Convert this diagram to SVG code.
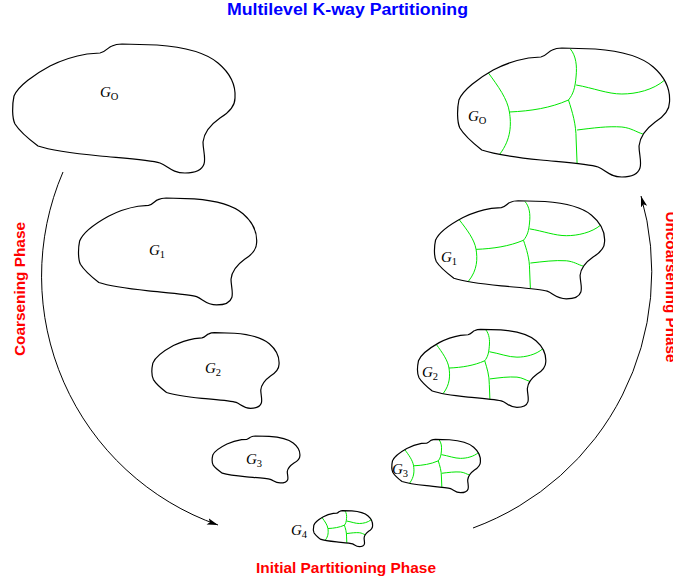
<svg xmlns="http://www.w3.org/2000/svg" xmlns:xlink="http://www.w3.org/1999/xlink" width="673" height="577" viewBox="0 0 673 577">
<style>
.outline{fill:none;stroke:#000;stroke-width:1.2;vector-effect:non-scaling-stroke;stroke-linejoin:round}
.part{fill:none;stroke:#00e600;stroke-width:1;vector-effect:non-scaling-stroke}
.lbl{font-family:"Liberation Serif","Times New Roman",serif;font-size:15px;fill:#000}
.it{font-style:italic}
.sub{font-size:10.5px}
.title{font-family:"Liberation Sans",Arial,sans-serif;font-weight:bold;font-size:16px;fill:#0000ff}
.phase{font-family:"Liberation Sans",Arial,sans-serif;font-weight:bold;font-size:15.5px;fill:#ff0000}
.conn{fill:none;stroke:#000;stroke-width:1}
</style>
<defs>
<path id="blob" class="outline" d="M 87,54 L 100,53 C 106,52 108,47 112,46 C 116,44 118,44 122,44 L 157,45 C 185,47 205,52 218,63 C 230,73 236,84 235,98 C 235,106 230,112 220,118 C 210,125 204,132 203,142 C 203,150 206,158 204,164 C 202,170 195,173 185,173 C 172,173 168,166 160,163 C 150,160 120,158 100,156 C 70,153 50,150 38,146 C 30,140 20,132 15,124 C 12,118 12,105 14,96 C 18,86 35,74 50,66 C 62,60 75,56 87,54 Z"/>
<g id="pblob">
<path class="part" d="M 45,69 C 55,82 65,95 67,108 C 69,120 69,135 57,150"/>
<path class="part" d="M 67,108 C 90,107 110,104 129,96"/>
<path class="part" d="M 131,45 C 137,52 138,62 137,72 C 136,84 134,90 129,96"/>
<path class="part" d="M 129,96 C 133,108 137,120 137,135 L 138,159"/>
<path class="part" d="M 137,81 C 155,84 170,90 185,90 C 200,90 218,86 230,76"/>
<path class="part" d="M 138,126 C 155,124 170,122 185,123 C 195,124 200,128 207,130"/>
<use xlink:href="#blob"/>
</g>
<marker id="arr" markerUnits="userSpaceOnUse" markerWidth="12" markerHeight="8" refX="11" refY="4" orient="auto">
<path d="M0,0.8 L11,4 L0,7.2 L2.5,4 Z" fill="#000"/>
</marker>
</defs>

<text class="title" x="347.5" y="15" text-anchor="middle" textLength="241" lengthAdjust="spacingAndGlyphs">Multilevel K-way Partitioning</text>

<g id="connectors">
<path class="conn" d="M 63,172 A 263.7 263.7 0 0 0 218,525" marker-end="url(#arr)"/>
<path class="conn" d="M 473,528 A 272.8 272.8 0 0 0 641,196" marker-end="url(#arr)"/>
</g>

<g id="G0-left">
<use xlink:href="#blob"/>
<text class="lbl" x="100" y="97"><tspan class="it">G</tspan><tspan class="sub" dy="2.5">O</tspan></text>
</g>
<g id="G1-left">
<use xlink:href="#blob" transform="matrix(0.801,0,0,0.829,68.4,161.5)"/>
<text class="lbl" x="149" y="255"><tspan class="it">G</tspan><tspan class="sub" dy="2.5">1</tspan></text>
</g>
<g id="G2-left">
<use xlink:href="#blob" transform="matrix(0.571,0,0,0.586,144.85,306.9)"/>
<text class="lbl" x="205" y="373"><tspan class="it">G</tspan><tspan class="sub" dy="2.5">2</tspan></text>
</g>
<g id="G3-left">
<use xlink:href="#blob" transform="matrix(0.394,0,0,0.364,207.3,420)"/>
<text class="lbl" x="246" y="464"><tspan class="it">G</tspan><tspan class="sub" dy="2.5">3</tspan></text>
</g>
<g id="G4">
<use xlink:href="#pblob" transform="matrix(0.266,0,0,0.279,310.1,498.4)"/>
<text class="lbl" x="291" y="535"><tspan class="it">G</tspan><tspan class="sub" dy="2.5">4</tspan></text>
</g>
<g id="G3-right">
<use xlink:href="#pblob" transform="matrix(0.398,0,0,0.414,386.9,421.1)"/>
<text class="lbl" x="392" y="474"><tspan class="it">G</tspan><tspan class="sub" dy="2.5">3</tspan></text>
</g>
<g id="G2-right">
<use xlink:href="#pblob" transform="matrix(0.576,0,0,0.605,410.4,302.7)"/>
<text class="lbl" x="422" y="377"><tspan class="it">G</tspan><tspan class="sub" dy="2.5">2</tspan></text>
</g>
<g id="G1-right">
<use xlink:href="#pblob" transform="matrix(0.765,0,0,0.760,424.8,167.3)"/>
<text class="lbl" x="441" y="262"><tspan class="it">G</tspan><tspan class="sub" dy="2.5">1</tspan></text>
</g>
<g id="G0-right">
<use xlink:href="#pblob" transform="matrix(0.953,0,0,1,445.56,4)"/>
<text class="lbl" x="468" y="121"><tspan class="it">G</tspan><tspan class="sub" dy="2.5">O</tspan></text>
</g>

<text class="phase" transform="translate(25,289) rotate(-90)" text-anchor="middle" textLength="134" lengthAdjust="spacingAndGlyphs">Coarsening Phase</text>
<text class="phase" transform="translate(666,287) rotate(90)" text-anchor="middle" textLength="151" lengthAdjust="spacingAndGlyphs">Uncoarsening Phase</text>
<text class="phase" x="346" y="573" text-anchor="middle" textLength="180" lengthAdjust="spacingAndGlyphs">Initial Partitioning Phase</text>
</svg>
